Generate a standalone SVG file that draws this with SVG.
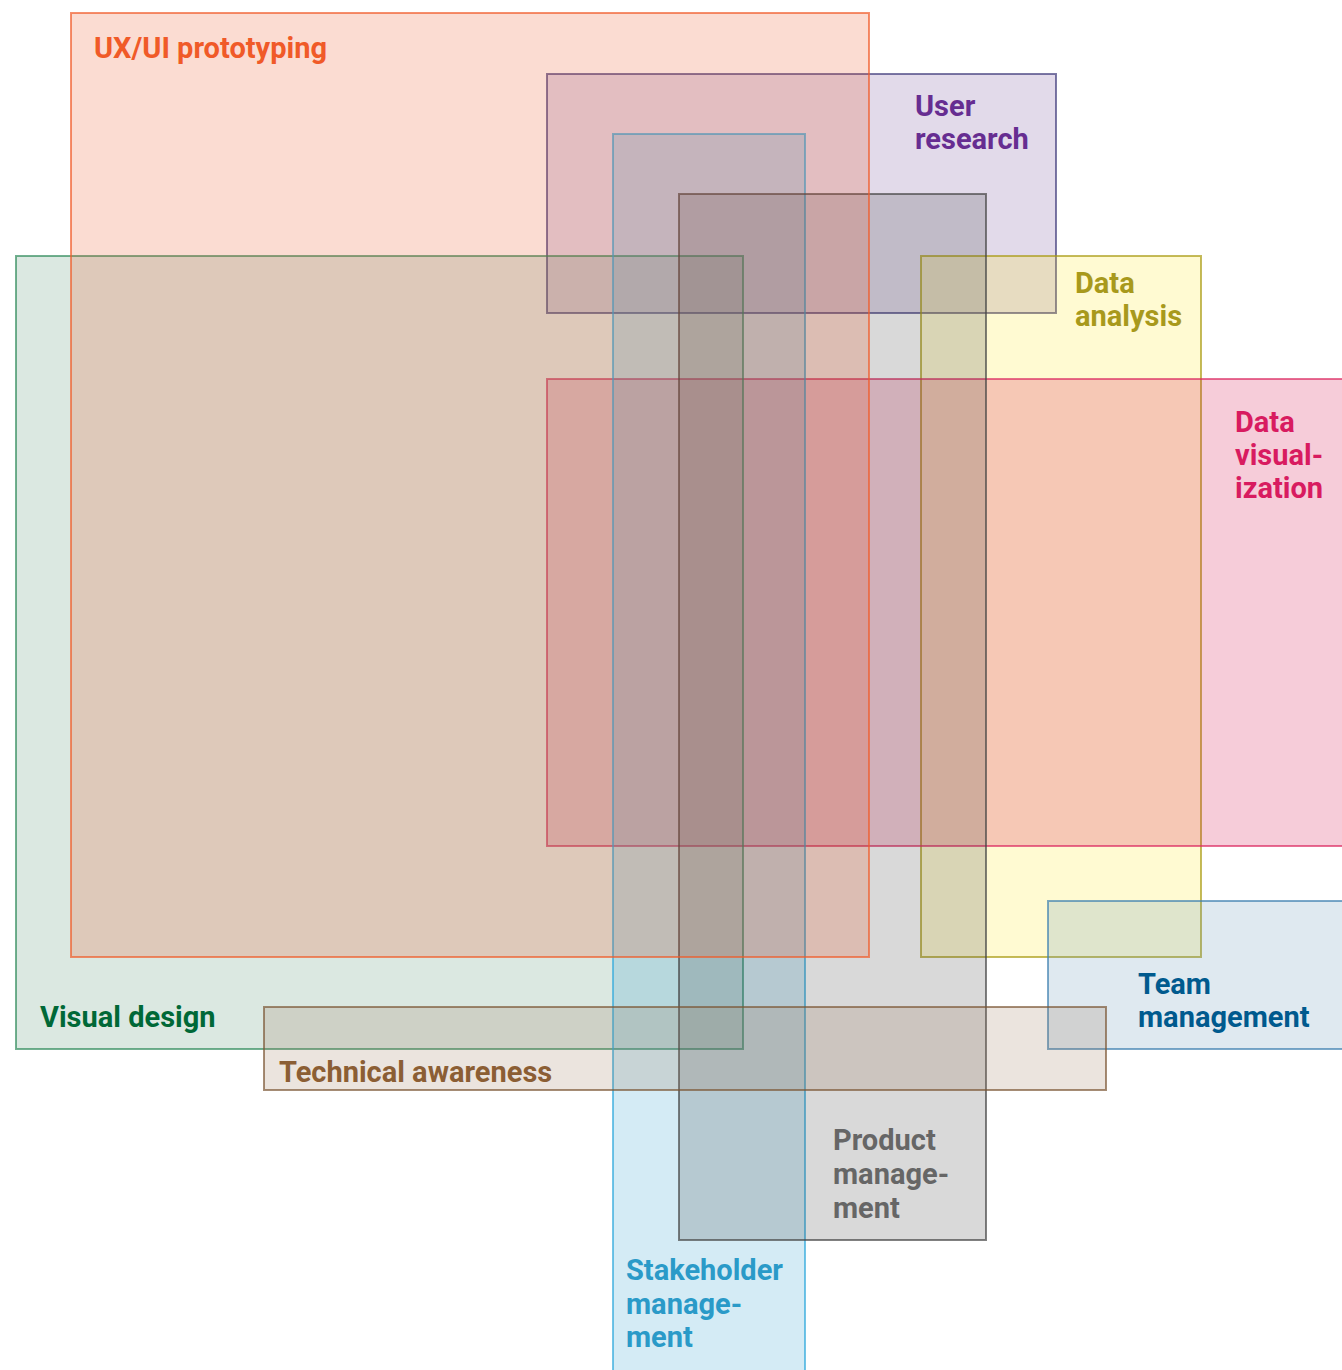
<svg xmlns="http://www.w3.org/2000/svg" width="1342" height="1370" viewBox="0 0 1342 1370">
<style>
.box{stroke-width:2;fill-opacity:0.2;stroke-opacity:0.68}
.lbl{font-family:Roboto,"Noto Sans",sans-serif;font-weight:700;font-size:29px}
</style>
<rect x="0" y="0" width="1342" height="1370" fill="#ffffff"/>
<g id="connectors"/>
<g id="user-research">
<rect class="box" x="547" y="74" width="509" height="239" fill="#6e4596" stroke="#3e3a7a"/>
<text class="lbl" x="915" y="116" fill="#662d91">User</text>
<text class="lbl" x="915" y="149" fill="#662d91">research</text>
</g>
<g id="data-analysis">
<rect class="box" x="921" y="256" width="280" height="701" fill="#ffe61e" stroke="#a89a10"/>
<text class="lbl" x="1075" y="293" fill="#a8991c">Data</text>
<text class="lbl" x="1075" y="326" fill="#a8991c">analysis</text>
</g>
<g id="data-visualization">
<rect class="box" x="547" y="379" width="800" height="467" fill="#d20041" stroke="#dc2a62"/>
<text class="lbl" x="1235" y="432" fill="#d81b60">Data</text>
<text class="lbl" x="1235" y="465" fill="#d81b60">visual-</text>
<text class="lbl" x="1235" y="498" fill="#d81b60">ization</text>
</g>
<g id="visual-design">
<rect class="box" x="16" y="256" width="727" height="793" fill="#4b8c69" stroke="#2f8a5c"/>
<text class="lbl" x="40" y="1027" fill="#006837">Visual design</text>
</g>
<g id="stakeholder-management">
<rect class="box" x="613" y="134" width="192" height="1240" fill="#289bcd" stroke="#2fa8dc"/>
<text class="lbl" x="626" y="1280" fill="#2a9ac8">Stakeholder</text>
<text class="lbl" x="626" y="1314" fill="#2a9ac8">manage-</text>
<text class="lbl" x="626" y="1347" fill="#2a9ac8">ment</text>
</g>
<g id="product-management">
<rect class="box" x="679" y="194" width="307" height="1046" fill="#414141" stroke="#444444"/>
<text class="lbl" x="833" y="1150" fill="#666666">Product</text>
<text class="lbl" x="833" y="1184" fill="#666666">manage-</text>
<text class="lbl" x="833" y="1218" fill="#666666">ment</text>
</g>
<g id="ux-ui-prototyping">
<rect class="box" x="71" y="13" width="798" height="944" fill="#eb501e" stroke="#f05a28"/>
<text class="lbl" x="94" y="58" fill="#f05a28">UX/UI prototyping</text>
</g>
<g id="team-management">
<rect class="box" x="1048" y="901" width="300" height="148" fill="#5f91b4" stroke="#3d7fb0"/>
<text class="lbl" x="1138" y="994" fill="#005a8e">Team</text>
<text class="lbl" x="1138" y="1027" fill="#005a8e">management</text>
</g>
<g id="technical-awareness">
<rect class="box" x="264" y="1007" width="842" height="83" fill="#9b785a" stroke="#7a5634"/>
<text class="lbl" x="279" y="1082" fill="#8b5e34">Technical awareness</text>
</g>
</svg>
